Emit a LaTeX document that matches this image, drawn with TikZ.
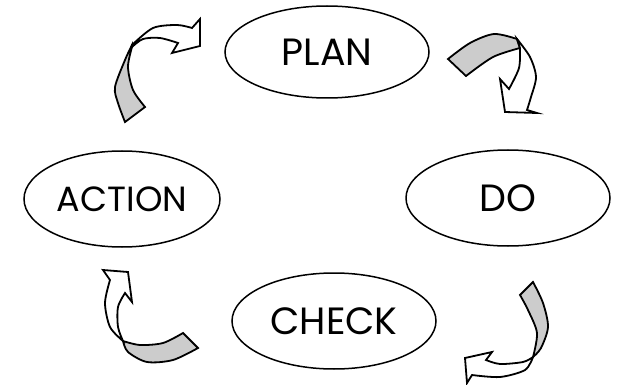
\documentclass[tikz,border=0pt]{standalone}
\usepackage{fontspec}
\setmainfont{Poppins}
\usetikzlibrary{shapes.geometric}
\begin{document}
\begin{tikzpicture}[x=1pt,y=-1pt,
  stage/.style={draw=black,line width=1.5pt,ellipse,inner sep=0pt,font=\fontsize{38}{44}\selectfont},
  backface/.style={draw=black,fill=black!20,line width=1.8pt,line join=miter},
  frontface/.style={draw=black,fill=white,line width=1.8pt,line join=miter}]
\useasboundingbox (0,0) rectangle (621,385);
\node[stage,minimum width=204pt,minimum height=92pt] (plan) at (327,52) {PLAN};
\node[stage,minimum width=196pt,minimum height=96pt] (action) at (122,199) {\fontsize{35}{40}\selectfont ACTION};
\node[stage,minimum width=204pt,minimum height=96pt] (do) at (508,198) {DO};
\node[stage,minimum width=204pt,minimum height=96pt] (check) at (334,321) {CHECK};
% top-left arrow (ACTION -> PLAN)
\path[backface] (132,45) -- plot[smooth] coordinates {(132,45) (125,60) (115,87) (118,103) (125,122)}
  -- (145,107) -- plot[smooth] coordinates {(145,107) (133,90) (128,67) (132,47)} -- cycle;
\path[frontface] (132,45) -- plot[smooth] coordinates {(132,45) (153,28) (177,25) (192,28)}
  -- (200,19) -- (200,46) -- (172,53) -- (178,43)
  -- plot[smooth] coordinates {(178,43) (160,38) (143,39) (132,47)} -- cycle;
% top-right arrow (PLAN -> DO)
\path[backface] (448,59) -- plot[smooth] coordinates {(448,59) (470,43) (494,34) (517,39)}
  -- plot[smooth] coordinates {(520,48) (493,57) (466,76)} -- cycle;
\path[frontface] (517,39) -- plot[smooth] coordinates {(517,39) (530,57) (536,77) (531,97) (527,110)}
  -- (537,113) -- (505,112) -- (500,79) -- (509,89)
  -- plot[smooth] coordinates {(509,89) (519,68) (520,48)} -- cycle;
% bottom-right arrow (DO -> CHECK)
\path[backface] (533,282) -- plot[smooth] coordinates {(533,282) (543,303) (548,327) (541,348) (533,357)}
  -- plot[smooth] coordinates {(533,357) (537,333) (528,310) (520,295)} -- cycle;
\path[frontface] (533,357) -- plot[smooth] coordinates {(533,357) (525,370) (500,377) (472,375)}
  -- (467,383) -- (465,358) -- (492,352) -- (486,360)
  -- plot[smooth] coordinates {(486,360) (500,364) (523,362) (533,357)} -- cycle;
% bottom-left arrow (CHECK -> ACTION)
\path[backface] (198,348) -- plot[smooth] coordinates {(198,348) (173,360) (147,362) (128,352) (123,341)}
  -- plot[smooth] coordinates {(123,341) (140,345) (163,343) (183,333)} -- cycle;
\path[frontface] (123,341) -- plot[smooth] coordinates {(123,341) (110,327) (105,303) (110,280)}
  -- (103,270) -- (128,272) -- (132,302) -- (125,293)
  -- plot[smooth] coordinates {(125,293) (118,307) (118,327) (123,341)} -- cycle;
\end{tikzpicture}
\end{document}
